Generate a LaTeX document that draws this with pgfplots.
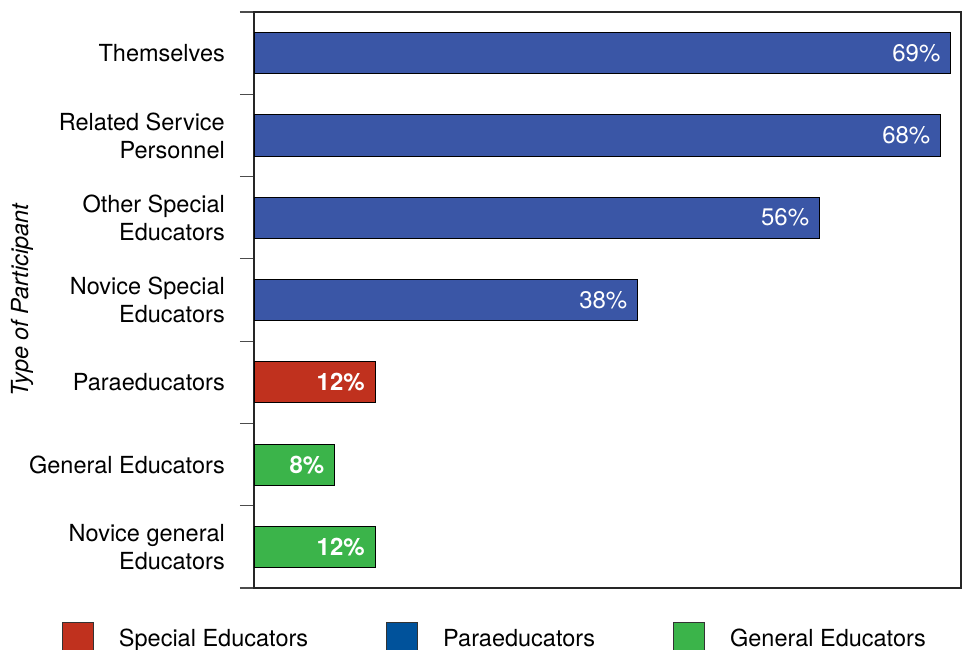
\documentclass[border=0pt]{standalone}
\usepackage{fontspec}
\setmainfont{TeX Gyre Heros}
\usepackage{pgfplots}
\pgfplotsset{compat=1.18}
\definecolor{barblue}{RGB}{58,86,166}
\definecolor{legblue}{RGB}{0,82,155}
\definecolor{barred}{RGB}{192,49,30}
\definecolor{bargreen}{RGB}{59,180,74}
\newcommand{\fs}{\fontsize{23.5bp}{28bp}\selectfont}
\begin{document}
\begin{tikzpicture}
\begin{axis}[
  at={(254bp,-588bp)}, anchor=south west,
  scale only axis, width=707bp, height=576bp,
  xmin=0, xmax=70, ymin=-0.5, ymax=6.5,
  xbar, bar width=0.5,
  xtick=\empty,
  ytick={0,...,6},
  yticklabels={{Novice general\\Educators},{General Educators},{Paraeducators},{Novice Special\\Educators},{Other Special\\Educators},{Related Service\\Personnel},{Themselves}},
  yticklabel style={font=\fs, align=right, inner sep=0pt, xshift=-29bp},
  major tick length=0pt,
  minor ytick={-0.5,0.5,...,6.5},
  minor tick length=14bp,
  tick align=outside,
  ytick pos=left,
  tick style={line width=1.2bp, color=black!70},
  axis line style={line width=1.2bp, color=black!85},
  ylabel={\itshape Type of Participant},
  ylabel style={font=\fs, at={(axis description cs:-0.328,0.5)}, anchor=center},
  point meta=explicit symbolic,
  nodes near coords,
  every node near coord/.append style={font=\fontsize{24bp}{28bp}\selectfont, white, anchor=east, inner sep=0pt, xshift=-10bp},
  legend columns=3,
  legend cell align=left,
  legend style={at={(axis description cs:-0.2716,-0.059)}, anchor=north west, draw=none, fill=none, inner sep=0pt, outer sep=0pt, font=\fs, nodes={inner sep=0pt},
    /tikz/every odd column/.append style={column sep=25bp},
    /tikz/every even column/.append style={column sep=78bp}},
  legend image code/.code={\draw[#1] (0bp,-15bp) rectangle (31bp,16bp);},
]
\addplot+[fill=barblue, draw=black, line width=1bp, bar shift=0pt, forget plot] coordinates {(69,6)[69\%] (68,5)[68\%] (56,4)[56\%] (38,3)[38\%]};
\addplot+[fill=barred, draw=black, line width=1bp, bar shift=0pt, forget plot,
  every node near coord/.append style={font=\fontsize{24bp}{28bp}\selectfont\bfseries}] coordinates {(12,2)[12\%]};
\addplot+[fill=bargreen, draw=black, line width=1bp, bar shift=0pt, forget plot,
  every node near coord/.append style={font=\fontsize{24bp}{28bp}\selectfont\bfseries}] coordinates {(8,1)[8\%] (12,0)[12\%]};
\addlegendimage{fill=barred, draw=black!80, line width=1bp}
\addlegendentry{Special Educators}
\addlegendimage{fill=legblue, draw=black!80, line width=1bp}
\addlegendentry{Paraeducators}
\addlegendimage{fill=bargreen, draw=black!80, line width=1bp}
\addlegendentry{General Educators}
\end{axis}
\pgfresetboundingbox
\useasboundingbox (0bp,0bp) rectangle (965bp,-650bp);
\end{tikzpicture}
\end{document}
